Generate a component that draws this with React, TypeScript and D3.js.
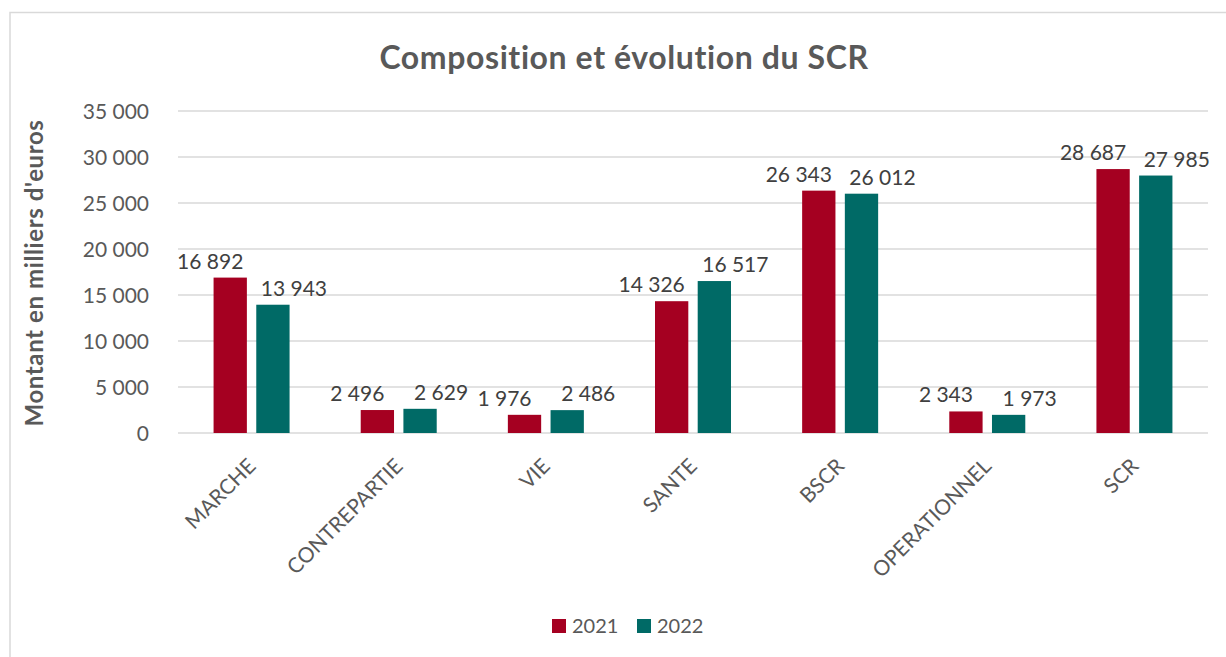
import React, { useEffect, useRef } from 'react';
import * as d3 from 'd3';

const categories = ['MARCHE', 'CONTREPARTIE', 'VIE', 'SANTE', 'BSCR', 'OPERATIONNEL', 'SCR'];
const values2021 = [16892, 2496, 1976, 14326, 26343, 2343, 28687];
const values2022 = [13943, 2629, 2486, 16517, 26012, 1973, 27985];
const seriesNames = ['2021', '2022'];
const yTicks = [0, 5000, 10000, 15000, 20000, 25000, 30000, 35000];

const colors = ['#A50021', '#006A66'];
const font = 'Lato, "Open Sans", sans-serif';

const fmt = (v: number) => d3.format(',')(v).replace(/,/g, ' ');

const App = () => {
  const svgRef = useRef<SVGSVGElement>(null);

  useEffect(() => {
    const width = 1226;
    const height = 657;
    const margin = { top: 111, right: 18, bottom: 224, left: 178 };
    const innerWidth = width - margin.left - margin.right;
    const innerHeight = height - margin.top - margin.bottom;

    const svg = d3.select(svgRef.current);
    svg.selectAll('*').remove();
    svg.attr('width', width).attr('height', height);

    svg.append('rect')
      .attr('x', 0).attr('y', 0).attr('width', width).attr('height', height)
      .attr('fill', '#fff');

    // outer chart border
    svg.append('rect')
      .attr('x', 10).attr('y', 12.5).attr('width', width + 20).attr('height', height + 20)
      .attr('fill', 'none').attr('stroke', '#d9d9d9').attr('stroke-width', 1.5);

    svg.append('text')
      .attr('x', 624).attr('y', 69)
      .attr('text-anchor', 'middle')
      .attr('font-family', font).attr('font-weight', 700).attr('font-size', 32)
      .attr('letter-spacing', 0.6)
      .attr('fill', '#595959')
      .text('Composition et évolution du SCR');

    const g = svg.append('g').attr('transform', `translate(${margin.left},${margin.top})`);

    const x0 = d3.scaleBand().domain(categories).range([0, innerWidth]).paddingInner(0).paddingOuter(0);
    const x1 = d3.scaleBand().domain(seriesNames).range([x0.bandwidth() / 2 - 38, x0.bandwidth() / 2 + 38]).paddingInner(0.22);
    const y = d3.scaleLinear().domain([0, 35000]).range([innerHeight, 0]);

    // gridlines
    g.append('g')
      .selectAll('line')
      .data(yTicks)
      .enter()
      .append('line')
      .attr('x1', 0).attr('x2', innerWidth)
      .attr('y1', (d) => y(d)).attr('y2', (d) => y(d))
      .attr('stroke', '#d9d9d9').attr('stroke-width', 1.5);

    // y tick labels
    g.append('g')
      .selectAll('text')
      .data(yTicks)
      .enter()
      .append('text')
      .attr('x', -29).attr('y', (d) => y(d))
      .attr('dy', '0.36em')
      .attr('text-anchor', 'end')
      .attr('font-family', font).attr('font-size', 21)
      .attr('fill', '#595959')
      .text((d) => fmt(d));

    svg.append('text')
      .attr('transform', `translate(43,${273}) rotate(-90)`)
      .attr('text-anchor', 'middle')
      .attr('font-family', font).attr('font-weight', 700).attr('font-size', 24)
      .attr('letter-spacing', 0.6)
      .attr('fill', '#595959')
      .text("Montant en milliers d'euros");

    const series = [values2021, values2022];
    const labelShift = [-20, 21];

    series.forEach((vals, si) => {
      const rows = categories.map((c, i) => ({ c, v: vals[i] }));
      g.append('g')
        .selectAll('rect')
        .data(rows)
        .enter()
        .append('rect')
        .attr('x', (d) => (x0(d.c) as number) + (x1(seriesNames[si]) as number))
        .attr('y', (d) => y(d.v))
        .attr('width', x1.bandwidth())
        .attr('height', (d) => innerHeight - y(d.v))
        .attr('fill', colors[si]);

      g.append('g')
        .selectAll('text')
        .data(rows)
        .enter()
        .append('text')
        .attr('x', (d) => (x0(d.c) as number) + (x1(seriesNames[si]) as number) + x1.bandwidth() / 2 + labelShift[si])
        .attr('y', (d) => y(d.v) - 9)
        .attr('text-anchor', 'middle')
        .attr('font-family', font).attr('font-size', 21)
        .attr('fill', '#404040')
        .text((d) => fmt(d.v));
    });

    // category labels
    g.append('g')
      .selectAll('text')
      .data(categories)
      .enter()
      .append('text')
      .attr('transform', (d) => `translate(${(x0(d) as number) + x0.bandwidth() / 2 - 5},${innerHeight + 24}) rotate(-45)`)
      .attr('text-anchor', 'end')
      .attr('dy', '0.7em')
      .attr('font-family', font).attr('font-size', 21)
      .attr('fill', '#595959')
      .text((d) => d);

    // legend
    const legend = svg.append('g').attr('transform', 'translate(552,619)');
    seriesNames.forEach((s, i) => {
      const lg = legend.append('g').attr('transform', `translate(${i * 85},0)`);
      lg.append('rect').attr('width', 14).attr('height', 14).attr('fill', colors[i]);
      lg.append('text')
        .attr('x', 20).attr('y', 7).attr('dy', '0.36em')
        .attr('font-family', font).attr('font-size', 20)
        .attr('fill', '#595959')
        .text(s);
    });
  }, []);

  return (
    <div style={{ position: 'fixed', left: 0, top: 0 }}>
      <svg ref={svgRef}></svg>
    </div>
  );
};

export default App;
